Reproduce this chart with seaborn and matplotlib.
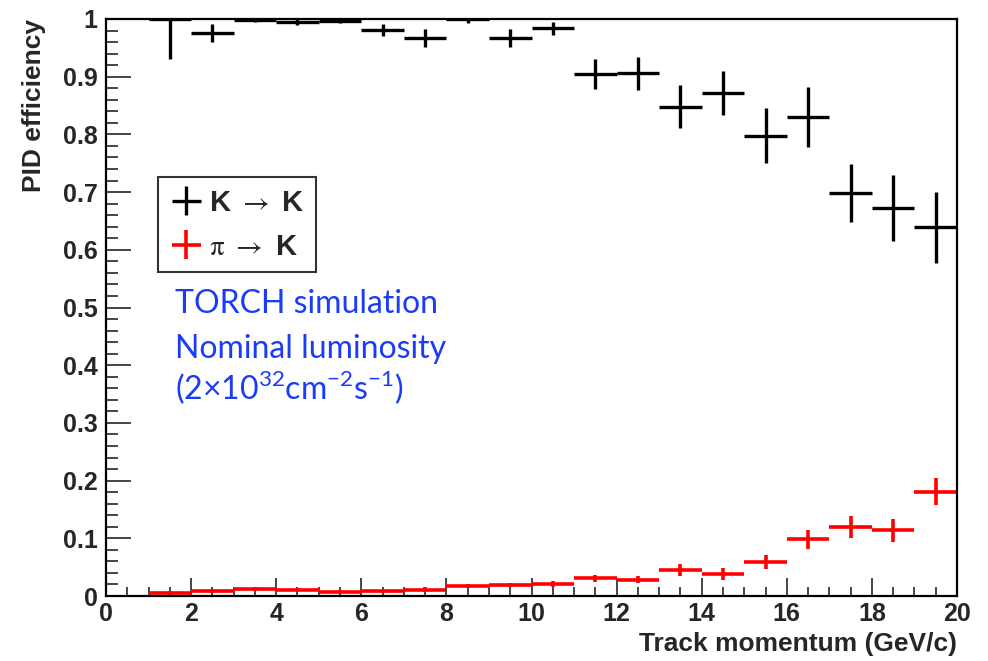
import numpy as np
import pandas as pd
import matplotlib
matplotlib.use('Agg')
import matplotlib.pyplot as plt
import seaborn as sns
from matplotlib.font_manager import FontProperties
from matplotlib.ticker import MultipleLocator

# bin centres of track momentum (GeV/c), 1 GeV/c wide bins
momentum = [1.5, 2.5, 3.5, 4.5, 5.5, 6.5, 7.5, 8.5, 9.5, 10.5,
            11.5, 12.5, 13.5, 14.5, 15.5, 16.5, 17.5, 18.5, 19.5]

# K -> K efficiency
eff_kk = [1.0, 0.976, 0.999, 0.995, 0.997, 0.981, 0.967, 1.0, 0.967, 0.984,
          0.905, 0.906, 0.848, 0.872, 0.798, 0.830, 0.699, 0.672, 0.639]
err_kk = [0.070, 0.016, 0.004, 0.006, 0.004, 0.011, 0.015, 0.007, 0.015, 0.011,
          0.026, 0.029, 0.037, 0.038, 0.047, 0.052, 0.050, 0.057, 0.062]

# pi -> K misidentification
eff_pk = [0.005, 0.009, 0.012, 0.011, 0.007, 0.008, 0.011, 0.017, 0.019, 0.021,
          0.031, 0.028, 0.045, 0.038, 0.059, 0.098, 0.120, 0.114, 0.181]
err_pk = [0.003, 0.003, 0.003, 0.003, 0.003, 0.003, 0.004, 0.004, 0.004, 0.005,
          0.006, 0.006, 0.010, 0.010, 0.012, 0.016, 0.019, 0.020, 0.024]

df = pd.DataFrame({'p': momentum, 'kk': eff_kk, 'kk_err': err_kk,
                   'pk': eff_pk, 'pk_err': err_pk})

sns.set_style('ticks')
plt.rcParams['font.family'] = ['Liberation Sans', 'DejaVu Sans']

fig = plt.figure(figsize=(9.88, 6.61), dpi=100)
ax = fig.add_axes([106/988, 1 - 596/661, 851/988, 577/661])

h_kk = ax.errorbar(df['p'], df['kk'], xerr=0.5, yerr=df['kk_err'], fmt='none',
                   ecolor='black', elinewidth=2.4, capsize=0)
h_pk = ax.errorbar(df['p'], df['pk'], xerr=0.5, yerr=df['pk_err'], fmt='none',
                   ecolor='#ff0000', elinewidth=2.6, capsize=0)

ax.set_xlim(0, 20)
ax.set_ylim(0, 1)
ax.xaxis.set_major_locator(MultipleLocator(2))
ax.xaxis.set_minor_locator(MultipleLocator(0.5))
ax.yaxis.set_major_locator(MultipleLocator(0.1))
ax.yaxis.set_minor_locator(MultipleLocator(0.02))
ax.set_yticks(np.arange(0, 1.01, 0.1))
ax.set_yticklabels(['0', '0.1', '0.2', '0.3', '0.4', '0.5', '0.6', '0.7', '0.8', '0.9', '1'])

ax.tick_params(axis='x', which='major', direction='in', length=13, width=1.2,
               labelsize=18, pad=4, top=False)
ax.tick_params(axis='x', which='minor', direction='in', length=6.5, width=1.2, top=False)
ax.tick_params(axis='y', which='major', direction='in', length=18, width=1.2,
               labelsize=18, pad=6, right=False)
ax.tick_params(axis='y', which='minor', direction='in', length=8.5, width=1.2, right=False)
for lab in ax.get_xticklabels() + ax.get_yticklabels():
    lab.set_fontweight('bold')
for s in ax.spines.values():
    s.set_linewidth(1.6)
    s.set_color('black')

ax.set_xlabel('Track momentum (GeV/c)', fontsize=19, fontweight='bold', loc='right', labelpad=5)
ax.set_ylabel('PID efficiency', fontsize=19, fontweight='bold', loc='top', labelpad=12)

leg_prop = FontProperties(family='Liberation Sans', weight='bold', size=21,
                          math_fontfamily='stix')
leg = ax.legend([h_kk, h_pk], [r'K $\rightarrow$ K', r'$\mathrm{\pi}$ $\rightarrow$ K'],
                loc='upper left', bbox_to_anchor=(0.061, 0.726), borderaxespad=0,
                prop=leg_prop, frameon=True, fancybox=False, edgecolor='black',
                handlelength=1.15, handletextpad=0.2, borderpad=0.4, labelspacing=0.55)
leg.get_frame().set_linewidth(1.5)
leg.get_frame().set_facecolor('white')

blue = '#1a3cf8'
tfam = ['Lato', 'DejaVu Sans']
ax.text(0.081, 0.506, 'TORCH simulation', transform=ax.transAxes, color=blue,
        fontsize=23, family=tfam, va='center')
ax.text(0.081, 0.428, 'Nominal luminosity', transform=ax.transAxes, color=blue,
        fontsize=23, family=tfam, va='center')
ax.text(0.081, 0.360,
        r'(2×10$^{\mathregular{32}}$cm$^{\mathregular{-2}}$s$^{\mathregular{-1}}$)',
        transform=ax.transAxes, color=blue, fontsize=23, family=tfam, va='center')

fig.savefig('out.png', dpi=100, facecolor='white')
